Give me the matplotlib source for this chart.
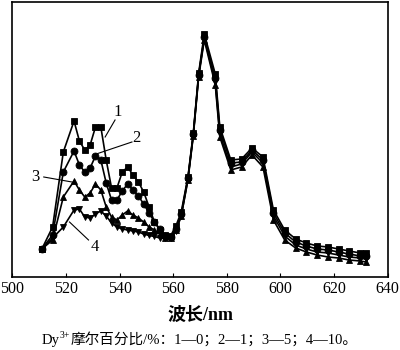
import matplotlib
matplotlib.use("Agg")
import matplotlib.pyplot as plt

SERIF = "Liberation Serif"
MIXED = ["Liberation Serif", "Noto Sans CJK SC"]

# wavelength samples (nm)
wavelength = [511, 515, 519, 523, 525, 527, 529, 531, 533, 535, 537, 539, 541,
              543, 545, 547, 549, 551, 553, 555, 557, 559, 561, 563, 565.5,
              567.5, 569.5, 571.6, 575.7, 577.4, 581.5, 585.5, 589.4, 593.5,
              597.4, 601.6, 605.7, 609.7, 613.7, 617.8, 621.7, 625.6, 629.8, 632]

# intensity (arbitrary units) per Dy3+ content
dy_0 = [28, 50, 125, 156, 136, 127, 132, 150, 150, 117, 89, 89, 105,
        110, 102, 95, 85, 70, 55, 47, 42, 41, 51, 65, 100,
        144, 204, 243, 203, 150, 117, 118, 129, 120,
        67, 47, 38, 34, 31, 30, 28, 26, 24, 24]
dy_1 = [28, 42, 105, 126, 112, 105, 109, 121, 117, 94, 77, 77, 86,
        93, 87, 81, 73, 64, 55, 48, 41, 40, 48, 63, 99,
        143, 202, 240, 199, 147, 114, 115, 127, 117,
        64, 44, 35, 31, 28, 27, 25, 23, 21, 21]
dy_5 = [28, 37, 80, 96, 87, 80, 84, 93, 87, 70, 60, 57, 62,
        66, 62, 59, 55, 50, 47, 43, 39, 39, 47, 61, 97,
        141, 200, 237, 192, 140, 107, 110, 122, 110,
        57, 37, 29, 25, 22, 20, 19, 17, 16, 15]
dy_10 = [28, 39, 50, 67, 68, 60, 59, 63, 66, 61, 54, 50, 48,
         47, 46, 45, 43, 41.5, 40.5, 39, 38.5, 39, 46, 61, 98,
         142, 202, 239, 195, 143, 110, 113, 125, 114,
         61, 41, 32, 28, 25, 24, 22, 20, 19, 18]

series = [(dy_0, "s"), (dy_1, "o"), (dy_5, "^"), (dy_10, "v")]

# curve labels: text position, leader start, leader end (data coords)
labels = [
    ("1", (539.2, 165), (538.3, 157), (534.6, 140)),
    ("2", (546.4, 139), (544.6, 135), (531.3, 123)),
    ("3", (508.6, 100), (511.7, 100), (522.2, 95)),
    ("4", (530.9, 30), (528.4, 37), (521.3, 55)),
]

xticks = list(range(500, 641, 20))

fig = plt.figure(figsize=(4, 3.5), dpi=100)
ax = fig.add_axes([0.031, 0.2086, 0.938, 0.7857])

for values, marker in series:
    ax.plot(wavelength, values, color="black", linewidth=1.2,
            marker=marker, markersize=5, markeredgewidth=0.6, zorder=3)

for text, tpos, p0, p1 in labels:
    ax.plot([p0[0], p1[0]], [p0[1], p1[1]], color="black", linewidth=0.8)
    ax.text(tpos[0], tpos[1], text, ha="center", va="center",
            fontsize=12, fontfamily=SERIF)

ax.set_xlim(500, 640)
ax.set_ylim(0, 275)
ax.set_xticks(xticks)
ax.set_yticks([])
ax.tick_params(axis="x", direction="in", length=3, width=0.8, pad=3,
               labelsize=11.5)
for lab in ax.get_xticklabels():
    lab.set_fontfamily(SERIF)
for sp in ax.spines.values():
    sp.set_linewidth(1.2)
    sp.set_color("black")

fig.text(0.5, 0.1, "波长/nm", ha="center", va="center", fontsize=13,
         fontweight="bold", family=MIXED)

# caption with superscript, built in pieces so CJK glyphs fall back
t1 = fig.text(0.105, 0.018, "Dy", ha="left", va="baseline", fontsize=10.5,
              family=SERIF)
t2 = ax.annotate("3+", xy=(1, 0.55), xycoords=t1, ha="left", va="bottom",
                 fontsize=7, family=SERIF, annotation_clip=False)
ax.annotate("摩尔百分比/%：1—0；2—1；3—5；4—10。", xy=(1, 0),
            xycoords=(t2, t1), ha="left", va="bottom", fontsize=10.5,
            family=MIXED, annotation_clip=False)

fig.savefig("out.png", dpi=100)
